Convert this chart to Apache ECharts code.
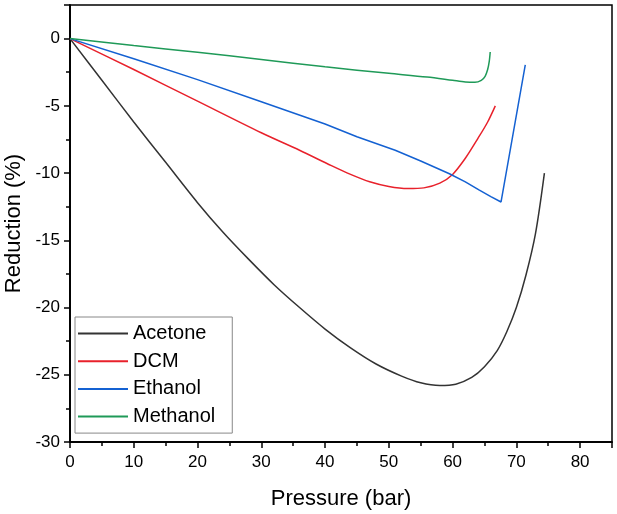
<!DOCTYPE html>
<html>
<head>
<meta charset="utf-8">
<script src="https://cdn.jsdelivr.net/npm/echarts@6/dist/echarts.min.js"></script>
<style>
  html, body { margin: 0; padding: 0; background: #fff; }
  #chart { width: 617px; height: 514px; }
</style>
</head>
<body>
<div id="chart"></div>
<script>
// series names
const seriesNames = ['Acetone', 'DCM', 'Ethanol', 'Methanol']

// [pressure (bar), reduction (%)]
const acetone = [
  [0, 0], [5, -3.1], [10, -6.2], [15, -9.2], [20, -12.2], [24, -14.4],
  [28, -16.4], [32, -18.3], [36, -20.0], [40, -21.6], [44, -23.0],
  [48, -24.2], [52, -25.1], [55, -25.6], [58, -25.8], [60.5, -25.7],
  [63, -25.2], [65, -24.4], [67, -23.2], [68.5, -21.8], [70, -20.0],
  [71.5, -17.6], [73, -14.5], [74.4, -10.0]
]
const dcm = [
  [0, 0], [10, -2.3], [20, -4.65], [30, -7.0], [36, -8.3], [41, -9.45],
  [44, -10.1], [47, -10.65], [50, -11.0], [53, -11.15], [55.5, -11.1],
  [58, -10.75], [60, -10.1], [62, -8.9], [64, -7.4], [65.5, -6.2], [66.7, -5.0]
]
const ethanol = [
  [0, 0], [10, -1.5], [20, -3.05], [30, -4.7], [40, -6.35], [45, -7.3],
  [51, -8.3], [55, -9.1], [59.5, -10.05], [62, -10.65], [64.2, -11.27],
  [66, -11.75], [67.6, -12.15], [71.4, -1.95]
]
const methanol = [
  [0, 0], [10, -0.52], [20, -1.02], [30, -1.55], [40, -2.1], [50, -2.58],
  [56, -2.86], [60, -3.1], [62, -3.22], [63.5, -3.25], [64.5, -3.1],
  [65.1, -2.8], [65.5, -2.3], [65.75, -1.7], [65.9, -1.0]
]

const colors = ['#333333', '#e8212b', '#1461d2', '#1f9a58']
const font = 'Liberation Sans, Arial, sans-serif'

const chart = echarts.init(document.getElementById('chart'))

const mkLine = (name, data, color, smooth) => ({
  name: name,
  type: 'line',
  data: data,
  smooth: smooth,
  showSymbol: false,
  symbol: 'none',
  lineStyle: { color: color, width: 1.5 },
  itemStyle: { color: color }
})

const axisBlack = { color: '#000', width: 1.5 }

chart.setOption({
  animation: false,
  backgroundColor: '#fff',
  grid: {
    left: 70, right: 5, top: 5, bottom: 72,
    outerBoundsMode: 'none',
    show: true, borderColor: '#000', borderWidth: 1.5
  },
  legend: {
    orient: 'vertical',
    left: 75, top: 317,
    data: seriesNames,
    icon: 'rect',
    itemWidth: 50, itemHeight: 2,
    itemGap: 7.7,
    itemTextGap: 8,
    padding: [6.5, 17, 6.5, 3],
    borderColor: '#888', borderWidth: 1,
    textStyle: { fontSize: 20, lineHeight: 20, color: '#000', fontFamily: font }
  },
  xAxis: [{
    type: 'value',
    min: 0, max: 85, interval: 10,
    name: 'Pressure (bar)',
    nameLocation: 'middle',
    nameGap: 46,
    nameTextStyle: { fontSize: 22, color: '#000', fontFamily: font },
    axisLine: { onZero: false, lineStyle: axisBlack },
    axisTick: { length: 6, lineStyle: axisBlack },
    splitLine: { show: false },
    axisLabel: {
      fontSize: 17, color: '#000', fontFamily: font, margin: 12,
      formatter: v => (v % 10 === 0 ? String(v) : '')
    }
  }, {
    // minor ticks every 5 bar
    type: 'value',
    position: 'bottom',
    min: 0, max: 85, interval: 5,
    axisLine: { onZero: false, lineStyle: axisBlack },
    axisTick: { length: 4, lineStyle: axisBlack },
    axisLabel: { show: false },
    splitLine: { show: false }
  }],
  yAxis: [{
    type: 'value',
    min: -30, max: 2.5, interval: 5,
    name: 'Reduction (%)',
    nameLocation: 'middle',
    nameGap: 44,
    nameTextStyle: { fontSize: 22, color: '#000', fontFamily: font },
    axisLine: { onZero: false, lineStyle: axisBlack },
    axisTick: { length: 6, lineStyle: axisBlack },
    splitLine: { show: false },
    axisLabel: {
      fontSize: 17, color: '#000', fontFamily: font, margin: 10,
      formatter: v => (v % 5 === 0 ? String(v) : '')
    }
  }, {
    // minor ticks every 2.5 %
    type: 'value',
    position: 'left',
    min: -30, max: 2.5, interval: 2.5,
    axisLine: { onZero: false, lineStyle: axisBlack },
    axisTick: { length: 4, lineStyle: axisBlack },
    axisLabel: { show: false },
    splitLine: { show: false }
  }],
  series: [
    mkLine(seriesNames[0], acetone, colors[0], 0.3),
    mkLine(seriesNames[1], dcm, colors[1], 0.3),
    mkLine(seriesNames[2], ethanol, colors[2], false),
    mkLine(seriesNames[3], methanol, colors[3], 0.3)
  ]
})
</script>
</body>
</html>
